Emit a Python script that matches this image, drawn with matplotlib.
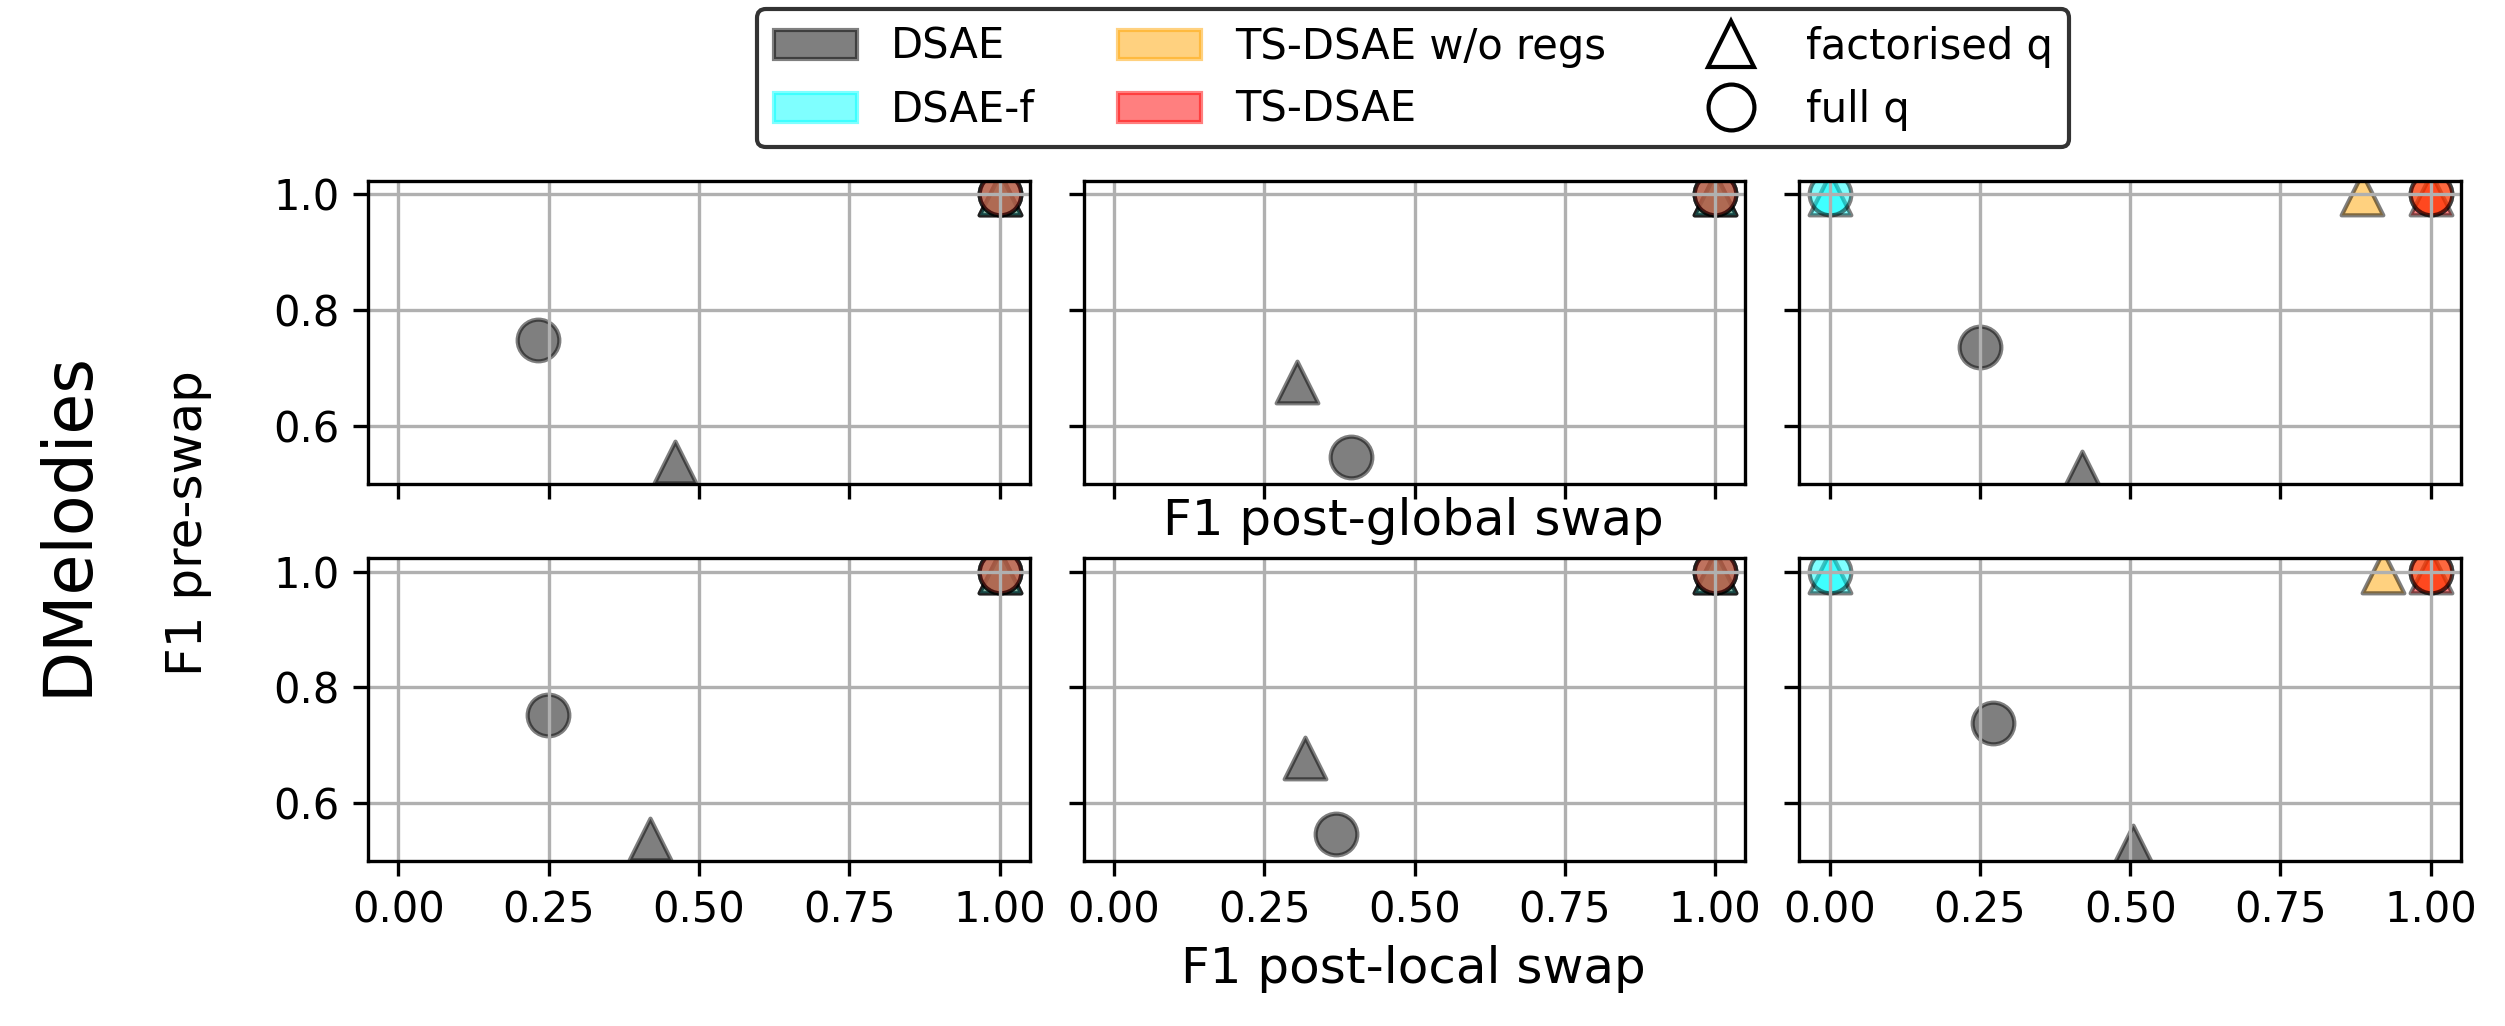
import matplotlib
matplotlib.use('Agg')
import matplotlib.pyplot as plt
from matplotlib.patches import Patch
from matplotlib.lines import Line2D


# values indexed [row][column]; row 0 = global swap, row 1 = local swap
models = ['DSAE', 'DSAE-f', 'TS-DSAE w/o regs', 'TS-DSAE']
colors = ['k', 'cyan', 'orange', 'red']

dsae_fact_x = [[0.46, 0.304, 0.42], [0.419, 0.318, 0.505]]
dsae_fact_y = [[0.537, 0.676, 0.52], [0.538, 0.678, 0.525]]
dsae_full_x = [[0.232, 0.394, 0.25], [0.248, 0.37, 0.272]]
dsae_full_y = [[0.749, 0.546, 0.737], [0.752, 0.546, 0.739]]

dsaef_fact_x = [[1.0, 1.0, 0.0], [1.0, 1.0, 0.0]]
dsaef_fact_y = [[1.0, 1.0, 1.0], [1.0, 1.0, 1.0]]
dsaef_full_x = [[1.0, 1.0, 0.0], [1.0, 1.0, 0.0]]
dsaef_full_y = [[1.0, 1.0, 1.0], [1.0, 1.0, 1.0]]

noreg_fact_x = [[1.0, 1.0, 0.885], [1.0, 1.0, 0.92]]
noreg_fact_y = [[1.0, 1.0, 1.0], [1.0, 1.0, 1.0]]
noreg_full_x = [[1.0, 1.0, 1.0], [1.0, 1.0, 1.0]]
noreg_full_y = [[1.0, 1.0, 1.0], [1.0, 1.0, 1.0]]

ts_fact_x = [[1.0, 1.0, 1.0], [1.0, 1.0, 1.0]]
ts_fact_y = [[1.0, 1.0, 1.0], [1.0, 1.0, 1.0]]
ts_full_x = [[1.0, 1.0, 1.0], [1.0, 1.0, 1.0]]
ts_full_y = [[1.0, 1.0, 1.0], [1.0, 1.0, 1.0]]

x_ticks = [0.0, 0.25, 0.5, 0.75, 1.0]
y_ticks = [0.6, 0.8, 1.0]

# drawing order of the models (index into models) for each marker
fact_order = [0, 2, 3, 1]
full_order = [0, 2, 1, 3]


def plot_panel(ax, row, col):
    fact = [(dsae_fact_x, dsae_fact_y), (dsaef_fact_x, dsaef_fact_y),
            (noreg_fact_x, noreg_fact_y), (ts_fact_x, ts_fact_y)]
    full = [(dsae_full_x, dsae_full_y), (dsaef_full_x, dsaef_full_y),
            (noreg_full_x, noreg_full_y), (ts_full_x, ts_full_y)]

    for i in fact_order:
        xs, ys = fact[i]
        ax.scatter(xs[row][col], ys[row][col], s=100, marker='^',
                   c=colors[i], edgecolors='k', alpha=0.5)
    for i in full_order:
        xs, ys = full[i]
        ax.scatter(xs[row][col], ys[row][col], s=100, marker='o',
                   c=colors[i], edgecolors='k', alpha=0.5)

    ax.set_xlim(-0.05, 1.05)
    ax.set_ylim(0.5, 1.024)
    ax.set_xticks(x_ticks)
    ax.set_yticks(y_ticks)
    ax.grid(True)


def main():
    fig, axes = plt.subplots(2, 3, figsize=(8.353, 3.42), dpi=300,
                             sharex='col', sharey=True)
    fig.subplots_adjust(left=0.147, right=0.982, top=0.824, bottom=0.161,
                        wspace=0.082, hspace=0.245)

    for row in range(2):
        for col in range(3):
            plot_panel(axes[row][col], row, col)

    fig.text(0.564, 0.492, 'F1 post-global swap', ha='center', va='center',
             fontsize=12)
    fig.text(0.564, 0.056, 'F1 post-local swap', ha='center', va='center',
             fontsize=12)
    fig.text(0.075, 0.49, 'F1 pre-swap', ha='center', va='center',
             rotation=90, fontsize=12)
    fig.text(0.027, 0.49, 'DMelodies', ha='center', va='center',
             rotation=90, fontsize=16)

    handles = [Patch(facecolor=c, edgecolor=c, alpha=0.5) for c in colors]
    handles += [
        Line2D([], [], marker='^', linestyle='None', markersize=11,
               markerfacecolor='w', markeredgecolor='k'),
        Line2D([], [], marker='o', linestyle='None', markersize=11,
               markerfacecolor='w', markeredgecolor='k'),
    ]
    labels = models + ['factorised q', 'full q']
    fig.legend(handles, labels, ncol=3, loc='lower center',
               bbox_to_anchor=(0.564, 0.836), edgecolor='k')

    fig.savefig('out.png', dpi=300)


if __name__ == '__main__':
    main()
